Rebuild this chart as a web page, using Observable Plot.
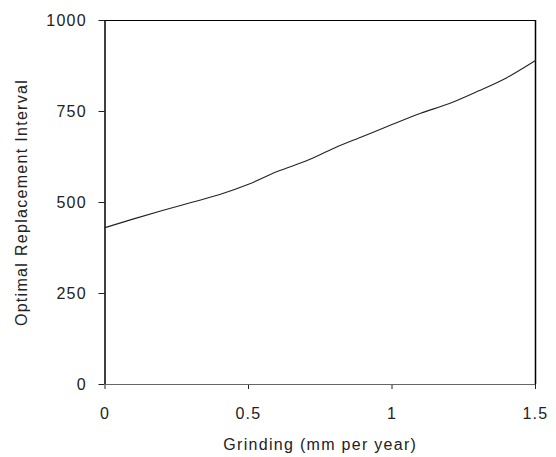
<!DOCTYPE html>
<html>
<head>
<meta charset="utf-8">
<script src="https://cdn.jsdelivr.net/npm/d3@7"></script>
<script src="https://cdn.jsdelivr.net/npm/@observablehq/plot@0.6"></script>
<style>
  html, body { margin: 0; padding: 0; background: #fff; }
</style>
</head>
<body>
<div id="chart"></div>
<script>
const grinding = [0, 0.1, 0.2, 0.3, 0.4, 0.5, 0.6, 0.7, 0.8, 0.9, 1.0, 1.1, 1.2, 1.3, 1.4, 1.5];
const interval = [431, 455, 478, 500, 522, 550, 585, 614, 650, 682, 714, 745, 772, 806, 843, 890];
const xTicks = [0, 0.5, 1, 1.5];
const yTicks = [0, 250, 500, 750, 1000];
const xTitle = "Grinding (mm per year)";
const yTitle = "Optimal Replacement Interval";

const data = grinding.map((g, i) => ({g, v: interval[i]}));

const chart = Plot.plot({
  width: 556,
  height: 457,
  marginLeft: 104.5,
  marginRight: 21,
  marginTop: 20,
  marginBottom: 73,
  style: {
    fontFamily: "'Liberation Sans', Arial, sans-serif",
    fontSize: "16px",
    letterSpacing: "1.3px",
    color: "#222",
    background: "#fff"
  },
  x: {
    domain: [0, 1.5],
    ticks: xTicks,
    tickFormat: d => String(d),
    tickSize: 5,
    tickPadding: 18,
    label: xTitle,
    labelAnchor: "center",
    labelArrow: "none",
    labelOffset: 65
  },
  y: {
    domain: [0, 1000],
    ticks: yTicks,
    tickFormat: d => String(d),
    tickSize: 6,
    tickPadding: 12,
    label: yTitle,
    labelAnchor: "center",
    labelArrow: "none",
    labelOffset: 89
  },
  marks: [
    Plot.ruleY([0], {stroke: "#666", strokeWidth: 1.2}),
    Plot.ruleY([1000], {stroke: "#000", strokeWidth: 1}),
    Plot.ruleX([0], {stroke: "#000", strokeWidth: 1.5}),
    Plot.ruleX([1.5], {stroke: "#000", strokeWidth: 1.5}),
    Plot.line(data, {x: "g", y: "v", stroke: "#222", strokeWidth: 1.1, curve: "monotone-x"})
  ]
});
document.getElementById("chart").appendChild(chart);
</script>
</body>
</html>
